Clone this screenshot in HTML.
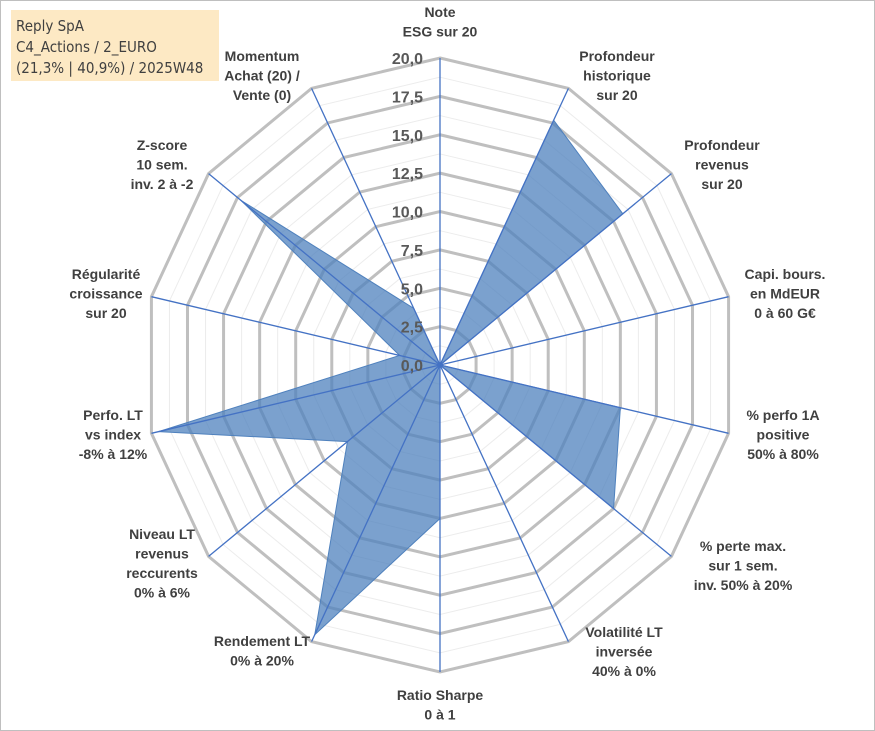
<!DOCTYPE html>
<html><head><meta charset="utf-8"><style>
body{margin:0;background:#fff;}
svg{display:block;font-family:"Liberation Sans",sans-serif;}
</style></head><body>
<svg id="chart" width="875" height="731" viewBox="0 0 875 731">
<rect x="0.5" y="0.5" width="874" height="730" fill="#fff" stroke="#bfbfbf"/>
<g id="grid"></g><g id="series"></g><g id="spokes"></g><g id="ticks"></g><g id="labels"></g>
<rect x="11" y="10" width="208" height="71" fill="#fde9c4"/>
<text x="16" y="31" font-size="15" fill="#404040" font-family="'DejaVu Sans Condensed','Liberation Sans Narrow','Liberation Sans',sans-serif">Reply SpA</text>
<text x="16" y="52" font-size="15" fill="#404040" font-family="'DejaVu Sans Condensed','Liberation Sans Narrow','Liberation Sans',sans-serif">C4_Actions / 2_EURO</text>
<text x="16" y="73" font-size="15" fill="#404040" font-family="'DejaVu Sans Condensed','Liberation Sans Narrow','Liberation Sans',sans-serif">(21,3% | 40,9%) / 2025W48</text>
</svg>
<script>
const categories=[["Note","ESG sur 20"],["Profondeur","historique","sur 20"],["Profondeur","revenus","sur 20"],["Capi. bours.","en MdEUR","0 à 60 G€"],["% perfo 1A","positive","50% à 80%"],["% perte max.","sur 1 sem.","inv. 50% à 20%"],["Volatilité LT","inversée","40% à 0%"],["Ratio Sharpe","0 à 1"],["Rendement LT","0% à 20%"],["Niveau LT","revenus","reccurents","0% à 6%"],["Perfo. LT","vs index","-8% à 12%"],["Régularité","croissance","sur 20"],["Z-score","10 sem.","inv. 2 à -2"],["Momentum","Achat (20) /","Vente (0)"]];
const values=[0,17.7,15.8,0,12.5,15,0,10,19.5,8,19.5,2.8,17.2,4.1];
const tickLabels=["0,0","2,5","5,0","7,5","10,0","12,5","15,0","17,5","20,0"];
const maxV=20;
const labelAnchors=[[440,17],[617,61],[722,150],[785,279],[783,420],[743,551],[624,637],[440,700],[262,646],[162,539],[113,420],[106,279],[162,150],[262,61]];
const cx=440,cy=365,Rx=296,Ry=307,N=categories.length;
const NS="http://www.w3.org/2000/svg";
function pt(k,v){const a=k*2*Math.PI/N;const f=v/maxV;return [cx+f*Rx*Math.sin(a),cy-f*Ry*Math.cos(a)];}
function mk(tag,attrs,parent){const e=document.createElementNS(NS,tag);for(const k in attrs)e.setAttribute(k,attrs[k]);parent.appendChild(e);return e;}
const grid=document.getElementById('grid');
for(let i=1;i<=16;i++){const v=i*1.25;const p=[];for(let k=0;k<N;k++)p.push(pt(k,v).join(','));
 const major=i%2===0;
 const e=mk('polygon',{points:p.join(' '),fill:'none',stroke:major?'#bfbfbf':'#ececec','stroke-width':major?3:1},grid);
 
 }
const sp=[];for(let k=0;k<N;k++)sp.push(pt(k,values[k]).join(','));
const poly=mk('polygon',{points:sp.join(' '),fill:'#4f81bd','fill-opacity':0.75,stroke:'#4f81bd','stroke-width':1},document.getElementById('series'));


const spokes=document.getElementById('spokes');
for(let k=0;k<N;k++){const [x,y]=pt(k,maxV);const l=mk('line',{x1:cx,y1:cy,x2:x,y2:y,stroke:'#4472c4','stroke-width':1.3},spokes);
 
 }
const ticks=document.getElementById('ticks');
tickLabels.forEach((t,i)=>{const [x,y]=pt(0,i*2.5);const e=mk('text',{x:423,y:y+6,'text-anchor':'end','font-size':16,'font-weight':'bold',fill:'#595959'},ticks);e.textContent=t;
 
 });
const labels=document.getElementById('labels');
categories.forEach((lines,k)=>{const [ax,ay]=labelAnchors[k];
 const t=mk('text',{'text-anchor':'middle','font-size':14,'font-weight':'bold',fill:'#404040'},labels);
 
 
 lines.forEach((ln,i)=>{const ts=mk('tspan',{x:ax,y:ay+i*19.5},t);ts.textContent=ln;});
});
</script>
</body></html>
